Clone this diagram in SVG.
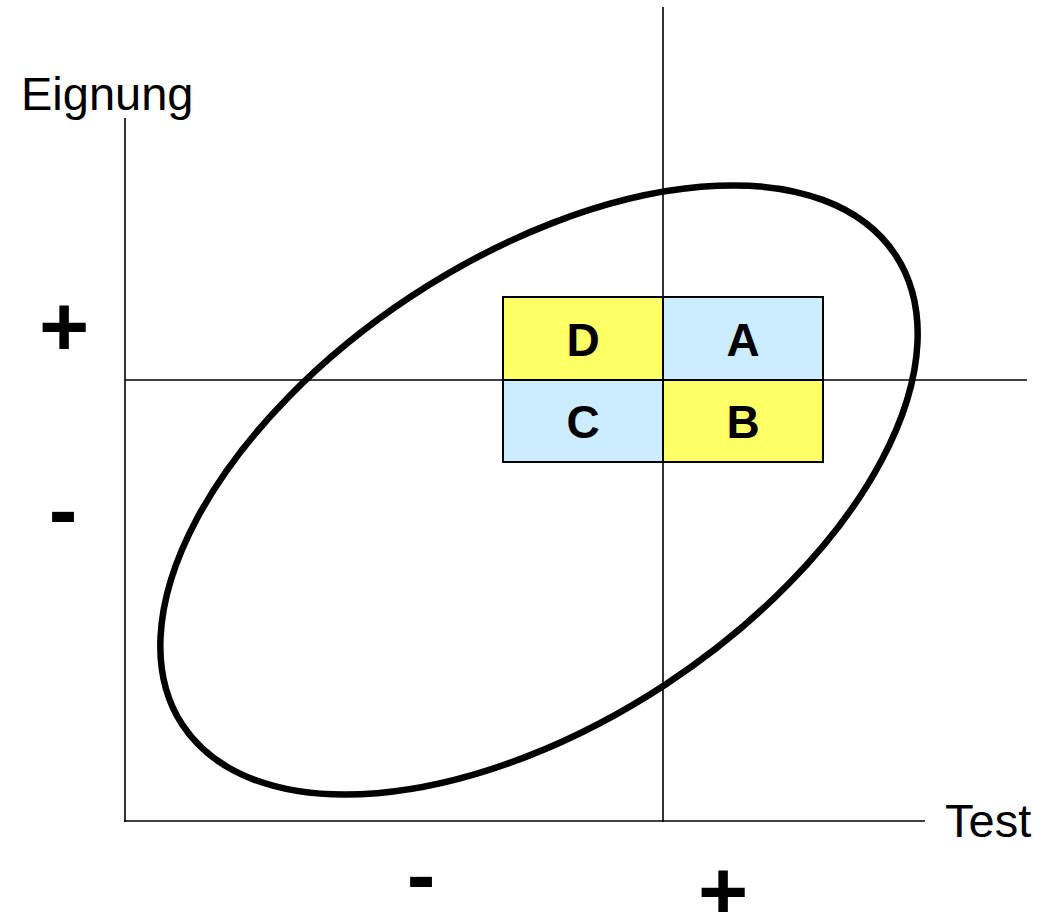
<svg xmlns="http://www.w3.org/2000/svg" width="1059" height="912" viewBox="0 0 1059 912">
<style>
.ax{stroke:#000;stroke-width:1.6;fill:none}
.cell{stroke:#000;stroke-width:2}
.y{fill:#FFFF66}
.b{fill:#CCECFF}
.lbl{font-family:"Liberation Sans",Arial,sans-serif;font-size:47px;fill:#000}
.cl{font-family:"Liberation Sans",Arial,sans-serif;font-size:46px;font-weight:bold;fill:#000;text-anchor:middle}
.sg{font-family:"Liberation Sans",Arial,sans-serif;font-size:86px;font-weight:bold;fill:#000;text-anchor:middle}
</style>
<rect width="1059" height="912" fill="#fff"/>
<g id="cells">
<rect class="cell y" x="503" y="297" width="160" height="83"/>
<rect class="cell b" x="663" y="297" width="160" height="83"/>
<rect class="cell b" x="503" y="380" width="160" height="82"/>
<rect class="cell y" x="663" y="380" width="160" height="82"/>
<text class="cl" x="583" y="356">D</text>
<text class="cl" x="743" y="356">A</text>
<text class="cl" x="583" y="438">C</text>
<text class="cl" x="743" y="438">B</text>
</g>
<g id="connectors">
<line class="ax" x1="125" y1="118" x2="125" y2="822"/>
<line class="ax" x1="124" y1="821" x2="925" y2="821"/>
<line class="ax" x1="663" y1="7" x2="663" y2="822"/>
<line class="ax" x1="125" y1="380" x2="1027" y2="380"/>
</g>
<g id="ellipse">
<ellipse cx="539" cy="490" rx="427" ry="232" transform="rotate(-33.4 539 490)" fill="none" stroke="#000" stroke-width="6.5"/>
</g>
<g id="labels">
<text class="lbl" x="21" y="110">Eignung</text>
<text class="lbl" x="945" y="837">Test</text>
<text class="sg" x="64" y="356">+</text>
<text class="sg" x="63" y="539">-</text>
<text class="sg" x="421" y="904">-</text>
<text class="sg" x="723" y="921">+</text>
</g>
</svg>
